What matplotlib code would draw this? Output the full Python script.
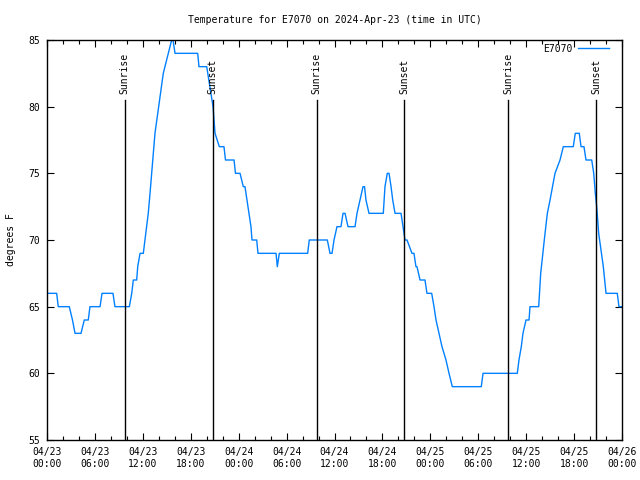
"""
Temperature trace for station E7070, 2024-Apr-23 .. 26 (UTC),
gnuplot-like look with sunrise / sunset markers.
"""

import matplotlib
matplotlib.use('Agg')
import matplotlib.pyplot as plt
from matplotlib.ticker import MultipleLocator, FixedLocator

# hours since 2024-04-23 00:00 UTC, and temperature (deg F)
hours = [0.0, 1.21, 1.41, 2.79, 3.19, 3.51, 4.26, 4.67, 5.17, 5.38, 6.64,
         6.89, 8.26, 8.51, 10.31, 10.61, 10.81, 11.23, 11.36, 11.65, 12.06,
         12.27, 12.48, 12.68, 12.90, 13.52, 14.56, 15.19, 15.61, 15.78, 16.03,
         18.87, 19.03, 20.0, 20.79, 21.04, 21.58, 22.16, 22.35, 23.42, 23.6,
         24.17, 24.58, 24.79, 25.17, 25.54, 25.67, 26.26, 26.42, 28.68, 28.84,
         29.09, 32.64, 32.84, 35.1, 35.44, 35.69, 35.94, 36.31, 36.81, 37.07,
         37.32, 37.69, 38.57, 38.82, 39.19, 39.57, 39.76, 39.94, 40.32, 42.11,
         42.32, 42.61, 42.83, 43.08, 43.29, 43.58, 44.33, 44.58, 44.83, 45.08,
         45.7, 45.95, 46.2, 46.33, 46.71, 47.33, 47.58, 48.17, 48.46, 48.71,
         49.09, 49.46, 49.96, 50.34, 50.75, 54.38, 54.6, 58.89, 59.1, 59.39,
         59.6, 59.98, 60.36, 60.48, 61.57, 61.82, 62.27, 62.65, 62.99, 63.61,
         64.24, 64.65, 65.9, 66.15, 66.65, 66.87, 67.24, 67.49, 68.21, 68.46,
         68.66, 68.83, 69.08, 69.66, 70.0, 71.41, 71.62, 72.0]
temps = [66, 66, 65, 65, 64, 63, 63, 64, 64, 65, 65,
         66, 66, 65, 65, 66, 67, 67, 68, 69, 69,
         70, 71, 72, 73.5, 78, 82.5, 84, 85, 85, 84,
         84, 83, 83, 80, 78, 77, 77, 76, 76, 75,
         75, 74, 74, 72.5, 71, 70, 70, 69, 69, 68,
         69, 69, 70, 70, 69, 69, 70, 71, 71, 72,
         72, 71, 71, 72, 73, 74, 74, 73, 72, 72,
         74, 75, 75, 74, 73, 72, 72, 71, 70, 70,
         69, 69, 68, 68, 67, 67, 66, 66, 65, 64,
         63, 62, 61, 60, 59, 59, 60, 60, 61, 62,
         63, 64, 64, 65, 65, 67.5, 70, 72, 73, 75,
         76, 77, 77, 78, 78, 77, 77, 76, 76, 75,
         73.5, 72.5, 70.5, 68, 66, 66, 65, 65]

sun_hours = [9.75, 20.75, 33.75, 44.75, 57.75, 68.75]
sun_labels = ['Sunrise', 'Sunset', 'Sunrise', 'Sunset', 'Sunrise', 'Sunset']

xtick_hours = list(range(0, 73, 6))
xtick_labels = ['04/23\n00:00', '04/23\n06:00', '04/23\n12:00', '04/23\n18:00',
                '04/24\n00:00', '04/24\n06:00', '04/24\n12:00', '04/24\n18:00',
                '04/25\n00:00', '04/25\n06:00', '04/25\n12:00', '04/25\n18:00',
                '04/26\n00:00']

FONT = 'DejaVu Sans Mono'
FS = 7
LINE_COLOR = '#0080ff'

fig = plt.figure(figsize=(6.4, 4.8), dpi=100)
ax = fig.add_axes([47 / 640, 40 / 480, 575 / 640, 400 / 480])

ax.plot(hours, temps, color=LINE_COLOR, linewidth=1.0, label='E7070')

# sunrise / sunset markers
for h, lab in zip(sun_hours, sun_labels):
    ax.plot([h, h], [55, 80.5], color='black', linewidth=1.0)
    ax.text(h, 80.95, lab, rotation=90, ha='center', va='bottom',
            family=FONT, fontsize=FS)

ax.set_xlim(0, 72)
ax.set_ylim(55, 85)

ax.xaxis.set_major_locator(FixedLocator(xtick_hours))
ax.xaxis.set_minor_locator(MultipleLocator(2))
ax.set_xticklabels(xtick_labels, family=FONT, fontsize=FS)
ax.yaxis.set_major_locator(MultipleLocator(5))
for lbl in ax.get_yticklabels():
    lbl.set_family(FONT)
    lbl.set_fontsize(FS)

ax.tick_params(which='both', direction='in', top=True, right=True,
               width=0.8, colors='black')
ax.tick_params(which='major', length=5, pad=5)
ax.tick_params(which='minor', length=3)
for s in ax.spines.values():
    s.set_linewidth(1.0)

ax.set_ylabel('degrees F', family=FONT, fontsize=FS, labelpad=9)
ax.set_title('Temperature for E7070 on 2024-Apr-23 (time in UTC)',
             family=FONT, fontsize=FS, pad=12)

leg = ax.legend(loc='upper right', bbox_to_anchor=(0.988, 1.005),
                frameon=False, handlelength=3.2, handletextpad=0.6,
                borderaxespad=0.2, prop={'family': FONT, 'size': FS},
                markerfirst=False)

fig.savefig('out.png', dpi=100)
